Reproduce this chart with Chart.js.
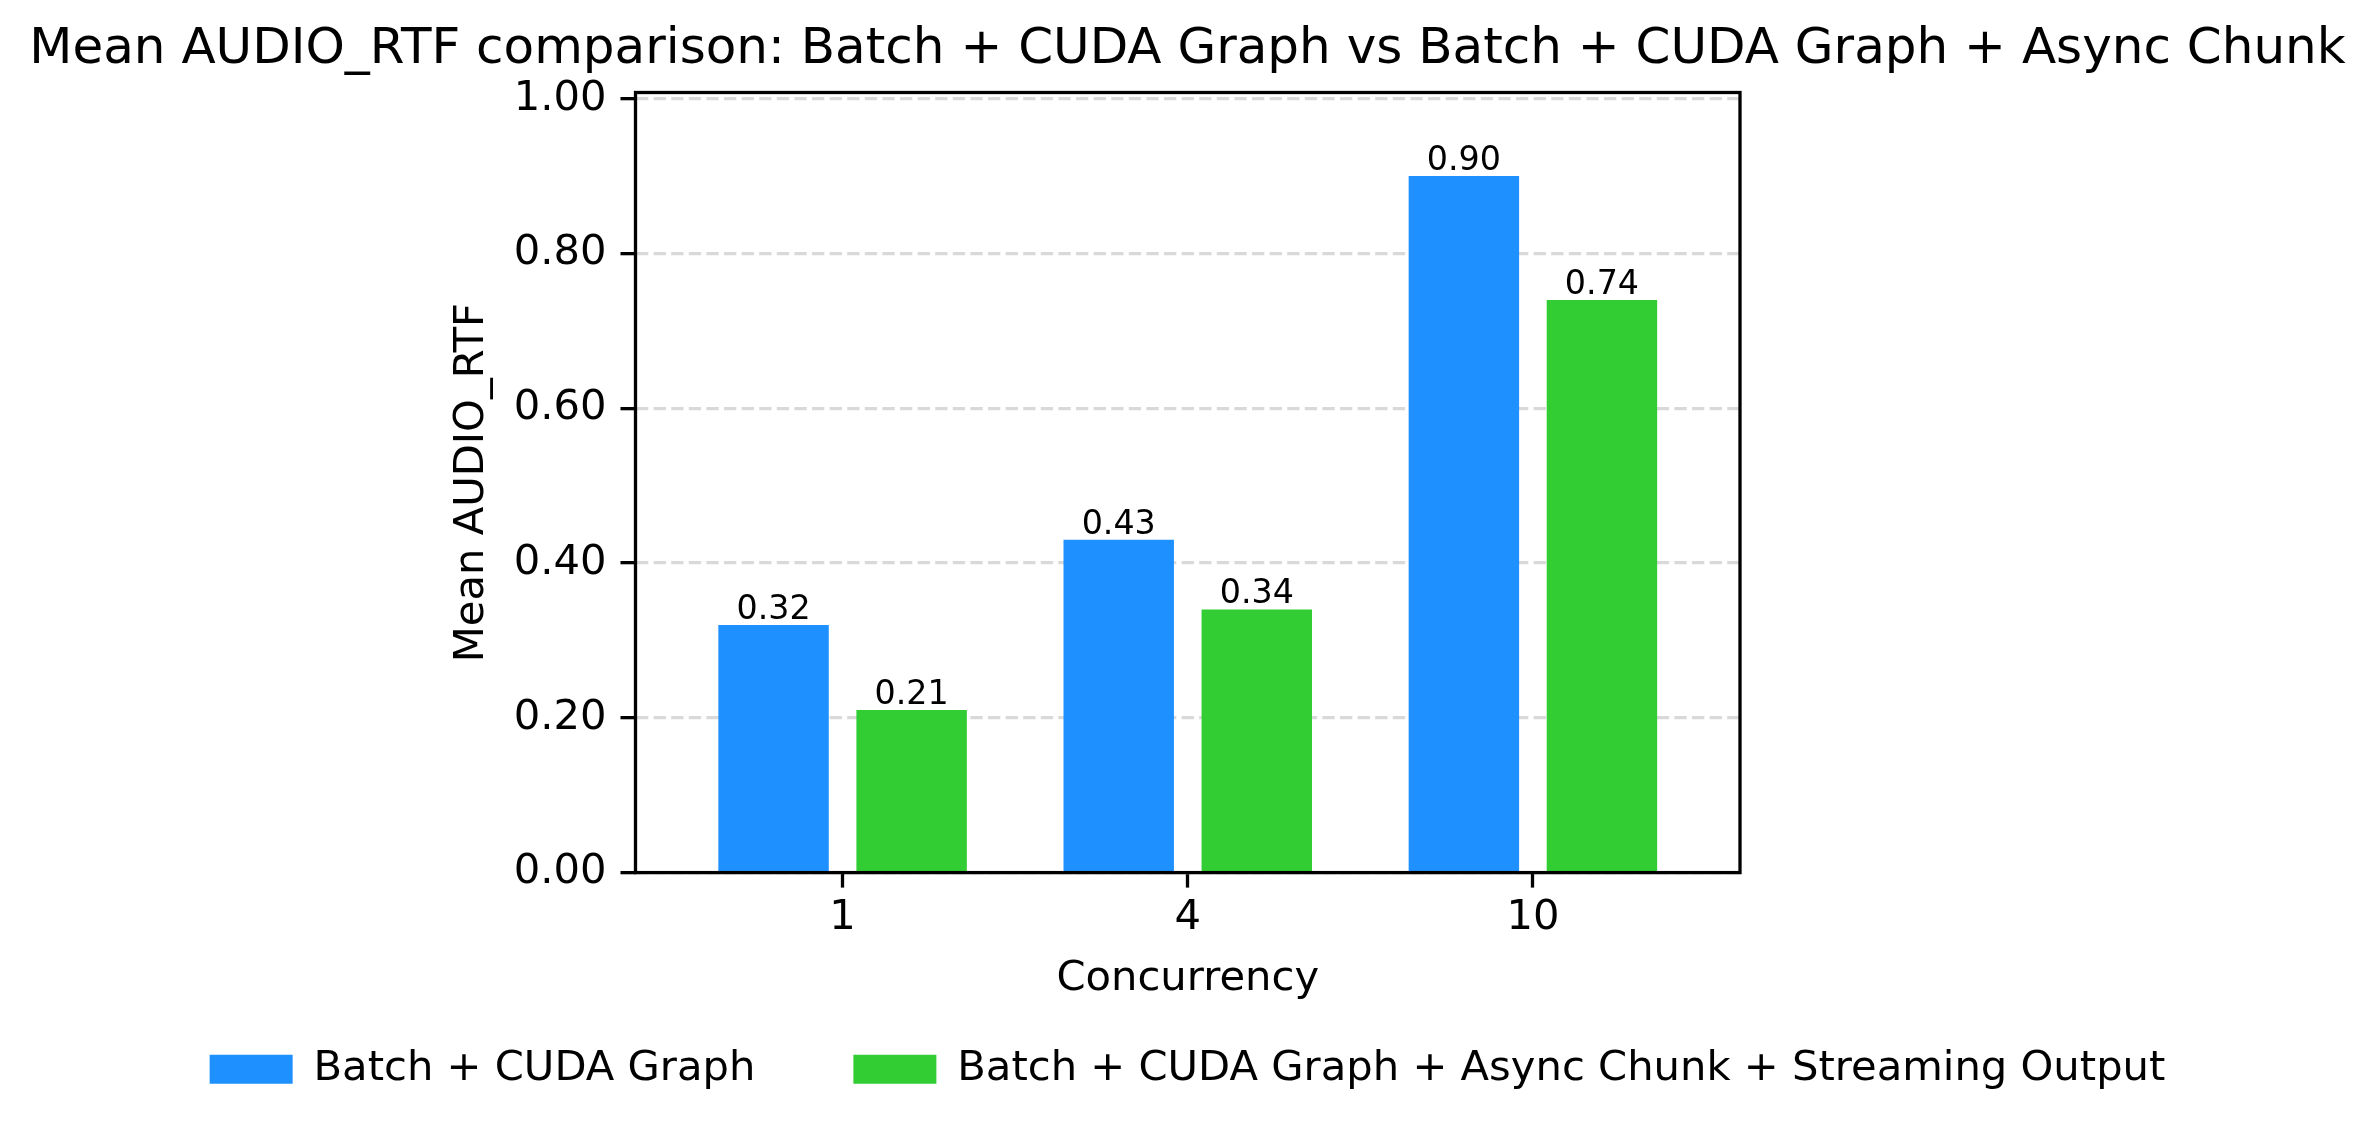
<!DOCTYPE html>
<html>
<head>
<meta charset="utf-8">
<script src="https://cdn.jsdelivr.net/npm/chart.js@4.4.0/dist/chart.umd.min.js"></script>
<style>
  html, body { margin: 0; padding: 0; background: #fff; }
  #wrap { width: 2375px; height: 1140px; }
</style>
</head>
<body>
<div id="wrap"><canvas id="myChart"></canvas></div>
<script>
const categories = ['1', '4', '10'];
const seriesNames = ['Batch + CUDA Graph', 'Batch + CUDA Graph + Async Chunk + Streaming Output'];
const batchGraph = [0.32, 0.43, 0.90];
const batchGraphAsync = [0.21, 0.34, 0.74];
const yTicks = [0, 0.2, 0.4, 0.6, 0.8, 1.0];

Chart.defaults.font.family = '"DejaVu Sans"';
Chart.defaults.color = '#000';

// numbers above each bar
const barLabels = {
    id: 'barLabels',
    afterDatasetsDraw(chart) {
        const ctx = chart.ctx;
        ctx.save();
        ctx.font = '33.3px "DejaVu Sans"';
        ctx.fillStyle = '#000';
        ctx.textAlign = 'center';
        ctx.textBaseline = 'alphabetic';
        chart.data.datasets.forEach((ds, i) => {
            chart.getDatasetMeta(i).data.forEach((bar, j) => {
                ctx.fillText(ds.data[j].y.toFixed(2), bar.x, bar.y - 6);
            });
        });
        ctx.restore();
    }
};

// black box round the plot area
const frame = {
    id: 'frame',
    afterDraw(chart) {
        const {ctx, chartArea: a} = chart;
        ctx.save();
        ctx.strokeStyle = '#000';
        ctx.lineWidth = 3.3;
        ctx.strokeRect(a.left, a.top, a.right - a.left, a.bottom - a.top);
        ctx.restore();
    }
};

const toPoints = vals => vals.map((v, i) => ({x: i, y: v}));

const ctx = document.getElementById('myChart');
const myChart = new Chart(ctx, {
    type: 'bar',
    data: {
        datasets: [{
            label: seriesNames[0],
            data: toPoints(batchGraph),
            backgroundColor: '#1E90FF',
            borderWidth: 0
        }, {
            label: seriesNames[1],
            data: toPoints(batchGraphAsync),
            backgroundColor: '#32CD32',
            borderWidth: 0
        }]
    },
    plugins: [barLabels, frame],
    options: {
        responsive: true,
        maintainAspectRatio: false,
        animation: false,
        categoryPercentage: 0.8,
        barPercentage: 0.8,
        layout: { padding: { left: 0, right: 0, top: 0, bottom: 40 } },
        scales: {
            x: {
                type: 'linear',
                min: -0.6,
                max: 2.6,
                offset: false,
                afterBuildTicks: s => { s.ticks = categories.map((c, i) => ({value: i})); },
                afterFit: s => { s.height = 77.7; },
                ticks: {
                    callback: v => categories[v],
                    font: { size: 41.7 },
                    padding: 6
                },
                grid: {
                    offset: false,
                    drawOnChartArea: false,
                    tickLength: 15,
                    tickColor: '#000',
                    tickWidth: 3.3
                },
                border: { display: false },
                title: {
                    display: true,
                    text: 'Concurrency',
                    font: { size: 41.7 },
                    padding: { top: 0, bottom: -54.3 }
                }
            },
            y: {
                z: 1,
                min: 0,
                max: 1.008,
                afterBuildTicks: s => { s.ticks = yTicks.map(v => ({value: v})); },
                afterFit: s => { s.width = 635.5; },
                ticks: {
                    callback: v => v.toFixed(2),
                    font: { size: 41.7 },
                    padding: 14
                },
                grid: {
                    color: '#d9d9d9',
                    lineWidth: 3.3,
                    tickLength: 15,
                    tickColor: '#000',
                    tickWidth: 3.3
                },
                border: { display: false, dash: [12.3, 5.3] },
                title: {
                    display: true,
                    text: 'Mean AUDIO_RTF',
                    font: { size: 41.7 },
                    padding: { top: 447, bottom: 0 }
                }
            },
            yRight: {
                position: 'right',
                display: true,
                afterFit: s => { s.width = 635; },
                ticks: { display: false },
                grid: { display: false },
                border: { display: false }
            }
        },
        plugins: {
            title: {
                display: true,
                text: 'Mean AUDIO_RTF comparison: Batch + CUDA Graph vs Batch + CUDA Graph + Async Chunk',
                font: { size: 50, weight: 'normal' },
                padding: { top: 20, bottom: 12.5 }
            },
            legend: {
                position: 'bottom',
                labels: {
                    boxWidth: 83,
                    boxHeight: 29,
                    padding: 98,
                    font: { size: 41.7 }
                }
            },
            tooltip: { enabled: false }
        }
    }
});
</script>
</body>
</html>
